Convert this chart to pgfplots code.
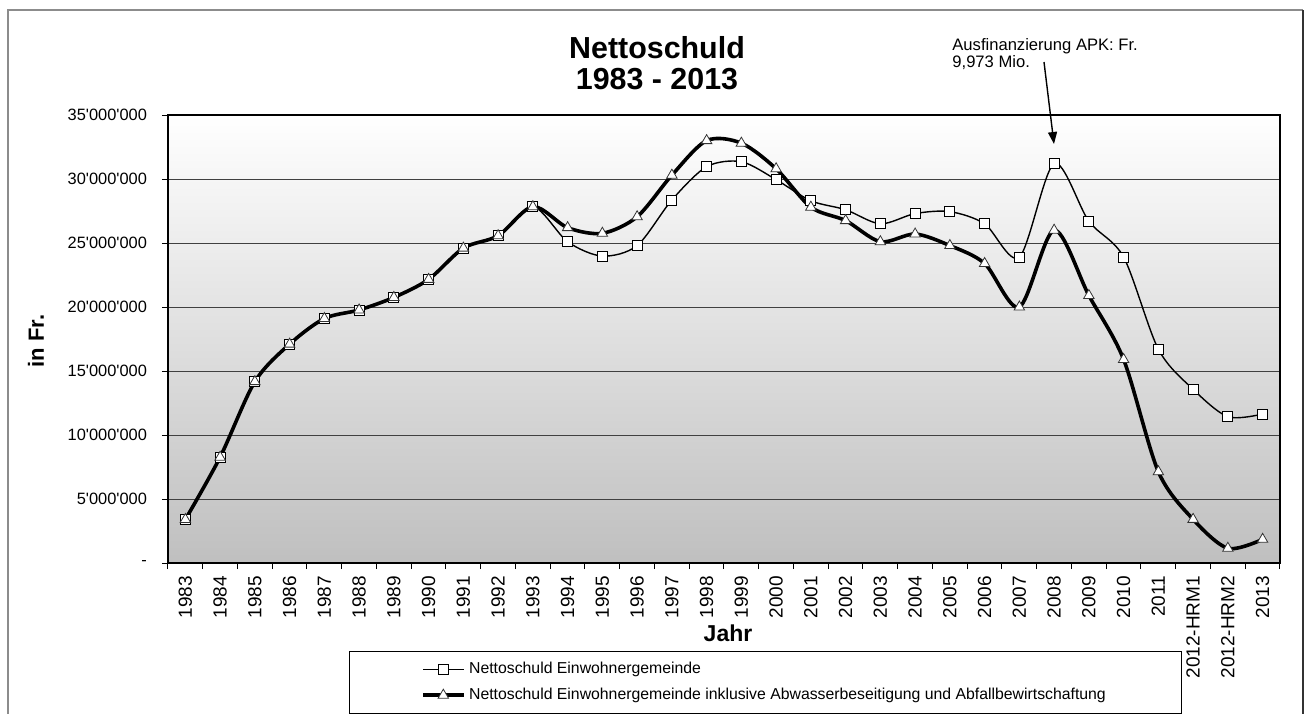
\documentclass[border=0pt]{standalone}
\usepackage{fontspec}
\setmainfont{Liberation Sans}[Ligatures=TeXOff]
\usepackage{pgfplots}
\usepackage{pgfplotstable}
\pgfplotsset{compat=1.18}
\usetikzlibrary{arrows.meta}

\pgfplotstableread{
x a b
0 3.40 3.40
1 8.27 8.27
2 14.17 14.17
3 17.10 17.10
4 19.10 19.10
5 19.77 19.77
6 20.75 20.75
7 22.16 22.16
8 24.60 24.60
9 25.57 25.57
10 27.84 27.84
11 25.10 26.20
12 23.98 25.76
13 24.80 27.05
14 28.36 30.30
15 30.96 33.00
16 31.35 32.80
17 29.95 30.80
18 28.30 27.80
19 27.60 26.75
20 26.50 25.10
21 27.30 25.70
22 27.45 24.80
23 26.50 23.40
24 23.90 20.00
25 31.20 26.00
26 26.70 20.90
27 23.90 15.90
28 16.70 7.13
29 13.57 3.41
30 11.43 1.15
31 11.64 1.85
}\data

\begin{document}
\begin{tikzpicture}
\useasboundingbox (0,0) rectangle (654pt,-356.5pt);
% outer frame
\draw[black!45, line width=0.6pt] (4pt,-360pt) -- (4pt,-5pt) -- (651.5pt,-5pt);
\draw[black!80, line width=1.2pt] (651.5pt,-5pt) -- (651.5pt,-360pt);

\begin{axis}[
  at={(84pt,-57.5pt)}, anchor=north west,
  scale only axis, width=556pt, height=224pt,
  xmin=-0.5, xmax=31.5, ymin=0, ymax=35,
  xtick={0,...,31},
  xticklabels={1983,1984,1985,1986,1987,1988,1989,1990,1991,1992,1993,1994,1995,1996,1997,1998,1999,2000,2001,2002,2003,2004,2005,2006,2007,2008,2009,2010,2011,2012-HRM1,2012-HRM2,2013},
  major x tick style={draw=none},
  minor xtick={-0.5,0.5,...,31.5},
  ytick={0,5,...,35},
  yticklabels={{-\hspace{4pt}},5'000'000,10'000'000,15'000'000,20'000'000,25'000'000,30'000'000,35'000'000},
  xtick pos=bottom, ytick pos=left,
  tick align=outside, major tick length=3pt, minor tick length=3pt,
  tick style={black, line width=0.5pt},
  ymajorgrids, grid style={black!75, line width=0.5pt},
  axis line style={black, line width=0.8pt},
  x tick label style={rotate=90, anchor=east, font=\fontsize{9.5}{11}\selectfont},
  y tick label style={font=\fontsize{8.2}{10}\selectfont, xshift=-4pt},
  axis background/.style={top color=white, bottom color=black!25},
  legend style={at={(0.1628,-0.1964)}, anchor=north west, draw=black, line width=0.5pt,
    fill=white, inner xsep=36pt, inner ysep=3.5pt, row sep=1.5pt,
    font=\fontsize{7.9}{9}\selectfont, cells={anchor=west}},
  legend cell align=left,
  legend image code/.code={\draw[mark repeat=2,mark phase=2,#1] plot coordinates {(0pt,0pt) (10pt,0pt) (20pt,0pt)};},
]
\addplot[black, line width=0.7pt, smooth, mark=square*, mark size=2.5pt,
  mark options={fill=white, draw=black, line width=0.4pt}] table[x=x,y=a]{\data};
\addlegendentry{Nettoschuld Einwohnergemeinde}
\addplot[black, line width=1.8pt, smooth, mark=triangle*, mark size=3pt,
  mark options={fill=white, draw=black!80, line width=0.4pt}] table[x=x,y=b]{\data};
\addlegendentry{Nettoschuld Einwohnergemeinde inklusive Abwasserbeseitigung und Abfallbewirtschaftung}
\end{axis}

% titles and labels
\node[anchor=base, font=\bfseries\fontsize{15.2}{17}\selectfont] at (328.5pt,-29pt) {Nettoschuld};
\node[anchor=base, font=\bfseries\fontsize{15.2}{17}\selectfont] at (328.5pt,-44.5pt) {1983 - 2013};
\node[rotate=90, font=\bfseries\fontsize{11}{13}\selectfont] at (18pt,-170.5pt) {in Fr.};
\node[font=\bfseries\fontsize{11.5}{13}\selectfont] at (364pt,-316.5pt) {Jahr};

% annotation
\node[anchor=base west, inner sep=0pt, font=\fontsize{8.3}{10}\selectfont] at (476pt,-25pt) {Ausfinanzierung APK: Fr.};
\node[anchor=base west, inner sep=0pt, font=\fontsize{8.3}{10}\selectfont] at (476pt,-33.5pt) {9,973 Mio.};
\draw[black, line width=0.7pt, -{Triangle[length=6pt,width=4.5pt]}] (522pt,-31pt) -- (527pt,-72pt);
\end{tikzpicture}
\end{document}
